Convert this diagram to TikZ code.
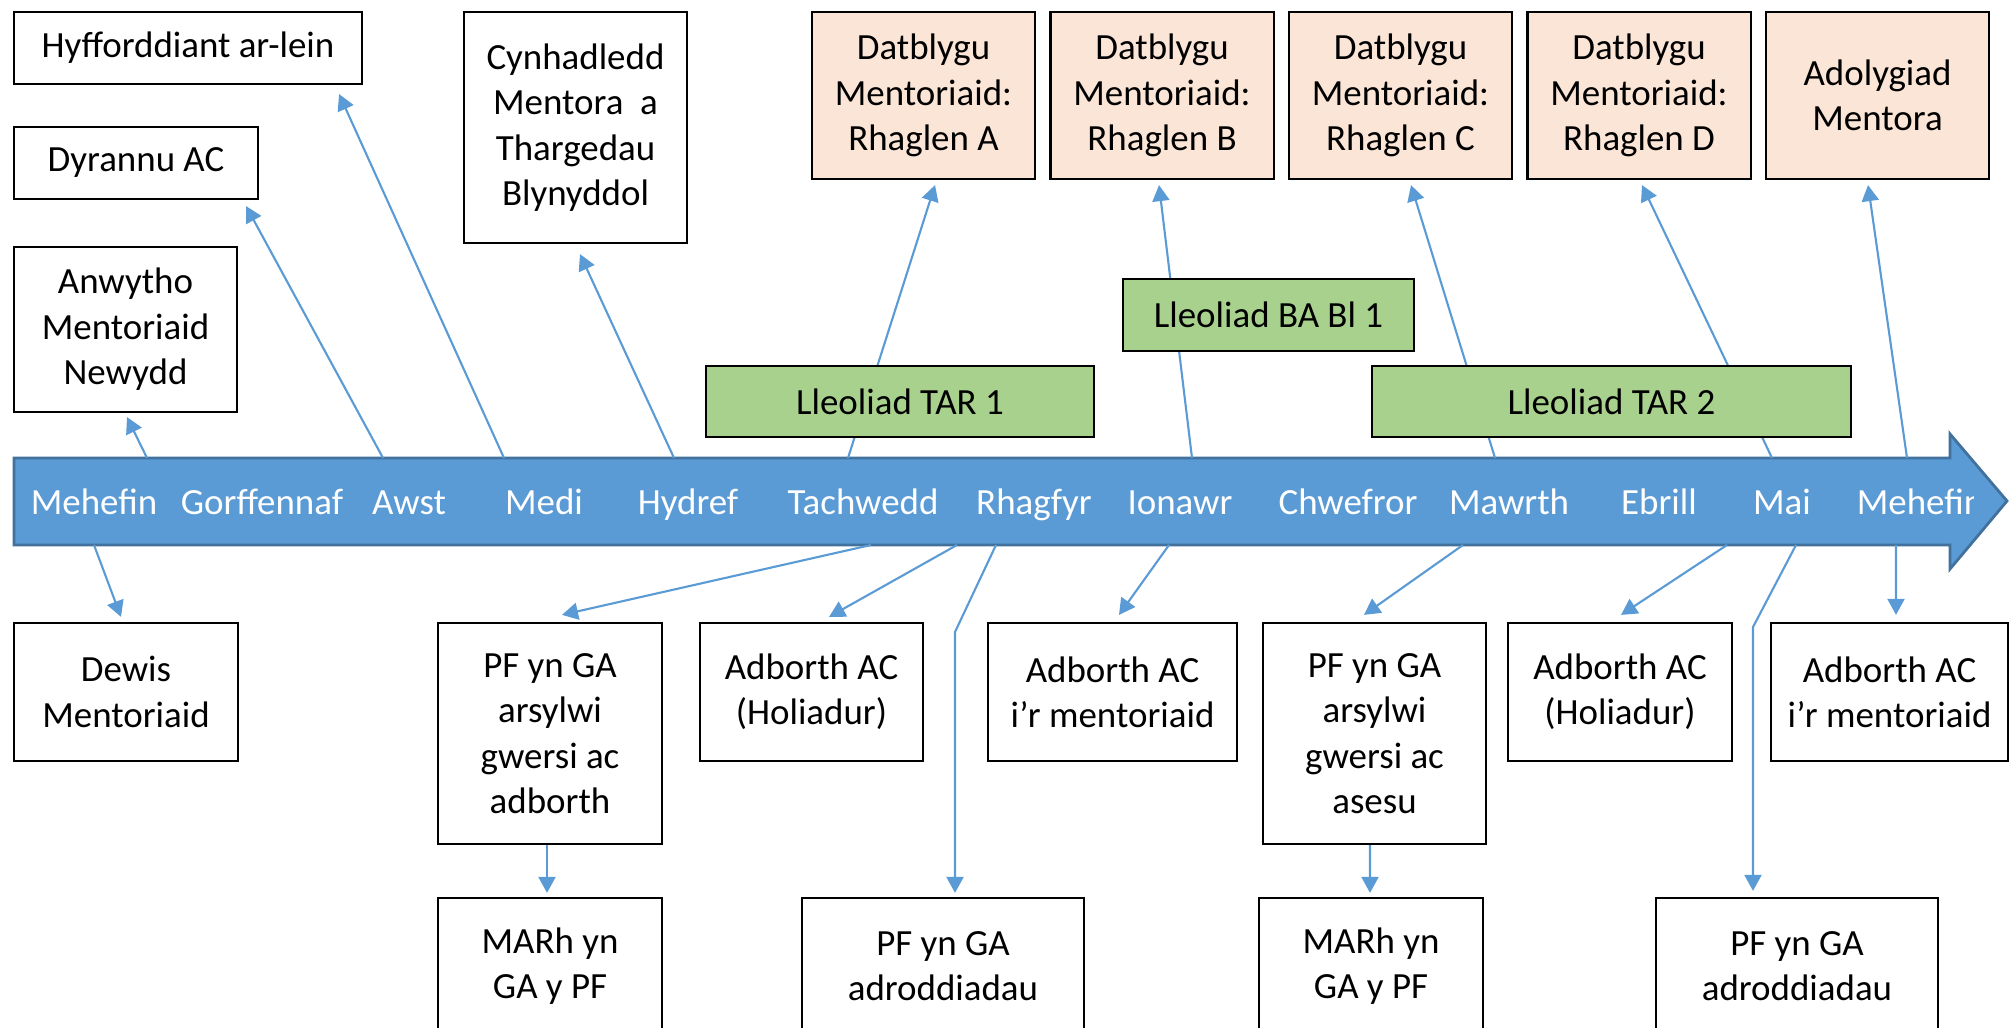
\documentclass[tikz,border=0pt]{standalone}
\usepackage{fontspec}
\setmainfont{Carlito}
\usetikzlibrary{arrows.meta}

\definecolor{bandblue}{RGB}{91,155,213}
\definecolor{bandedge}{RGB}{65,113,156}
\definecolor{linkblue}{RGB}{91,155,213}
\definecolor{placegreen}{RGB}{169,209,142}
\definecolor{progpink}{RGB}{251,229,214}

\begin{document}
\begin{tikzpicture}[x=0.01cm, y=-0.01cm, font=\fontsize{10.5}{12.9}\selectfont,
		box/.style={draw, line width=0.6pt, align=center, inner sep=0pt},
		plain/.style={box, fill=white},
		prog/.style={box, fill=progpink, minimum width=2.23cm, minimum height=1.67cm},
		place/.style={box, fill=placegreen},
		month/.style={text=white, anchor=base, inner sep=0pt},
		link/.style={draw=linkblue, line width=0.6pt, -{Triangle[length=0.16cm, width=0.17cm]}}]

			\useasboundingbox (0,0) rectangle (2009,1028);
			\clip (0,0) rectangle (2009,1028);

			% Draw the time line
			\draw[fill=bandblue, draw=bandedge, line width=0.8pt] (14,458) -- (1950,458) -- (1950,434)
			-- (2007,501) -- (1950,569) -- (1950,545) -- (14,545) -- cycle;

			\node[month] (jun) at (94,515) {Mehefin};
			\node[month] (jul) at (262,515) {Gorffennaf};
			\node[month] (aug) at (409,515) {Awst};
			\node[month] (sep) at (544,515) {Medi};
			\node[month] (oct) at (688,515) {Hydref};
			\node[month] (nov) at (863,515) {Tachwedd};
			\node[month] (dec) at (1034,515) {Rhagfyr};
			\node[month] (jan) at (1180,515) {Ionawr};
			\node[month] (feb) at (1348,515) {Chwefror};
			\node[month] (mar) at (1509,515) {Mawrth};
			\node[month] (apr) at (1659,515) {Ebrill};
			\node[month] (may) at (1782,515) {Mai};
			\begin{scope}
				\clip (1850,460) rectangle (1973,545);
				\node[month] (junb) at (1920,515) {Mehefin};
			\end{scope}

			% Points on the edge of the time line
			\coordinate (t1) at (147,458);
			\coordinate (t2) at (383,458);
			\coordinate (t3) at (504,458);
			\coordinate (t4) at (674,458);
			\coordinate (t5) at (848,458);
			\coordinate (t6) at (1192,458);
			\coordinate (t7) at (1495,458);
			\coordinate (t8) at (1772,458);
			\coordinate (t9) at (1907,458);

			\coordinate (b1) at (94,545);
			\coordinate (b2) at (871,545);
			\coordinate (b3) at (957,545);
			\coordinate (b4) at (996,545);
			\coordinate (b5) at (1169,545);
			\coordinate (b6) at (1463,545);
			\coordinate (b7) at (1727,545);
			\coordinate (b8) at (1796,545);
			\coordinate (b9) at (1896,545);

			\coordinate (k1) at (955,632);
			\coordinate (k2) at (1753,627);

			% Draw the boxes above the line
			\node[plain, minimum width=3.48cm, minimum height=0.72cm] (hyff) at (188,48) {Hyfforddiant ar-lein};
			\node[plain, minimum width=2.44cm, minimum height=0.72cm] (dyrannu) at (136,163) {Dyrannu AC};
			\node[plain, minimum width=2.23cm, minimum height=1.65cm] (anwytho) at (125.5,329.5)
			{Anwytho\\Mentoriaid\\Newydd};
			\node[plain, minimum width=2.23cm, minimum height=2.31cm] (cynh) at (575.5,127.5)
			{Cynhadledd\\Mentora\ \ a\\Thargedau\\Blynyddol};

			\node[prog] (progA) at (923.5,95.5) {Datblygu\\Mentoriaid:\\Rhaglen A};
			\node[prog] (progB) at (1162,95.5) {Datblygu\\Mentoriaid:\\Rhaglen B};
			\node[prog] (progC) at (1400.5,95.5) {Datblygu\\Mentoriaid:\\Rhaglen C};
			\node[prog] (progD) at (1639,95.5) {Datblygu\\Mentoriaid:\\Rhaglen D};
			\node[prog] (review) at (1877.5,95.5) {Adolygiad\\Mentora};

			% Draw the boxes below the line
			\node[plain, minimum width=2.24cm, minimum height=1.38cm] (dewis) at (126,692) {Dewis\\Mentoriaid};
			\node[plain, minimum width=2.24cm, minimum height=2.21cm] (pfA) at (550,733.5)
			{PF yn GA\\arsylwi\\gwersi ac\\adborth};
			\node[plain, minimum width=2.23cm, minimum height=1.38cm] (holA) at (811.5,692) {Adborth AC\\(Holiadur)};
			\node[plain, minimum width=2.49cm, minimum height=1.38cm] (mentA) at (1112.5,692)
			{Adborth AC\\i’r mentoriaid};
			\node[plain, minimum width=2.23cm, minimum height=2.21cm] (pfB) at (1374.5,733.5)
			{PF yn GA\\arsylwi\\gwersi ac\\asesu};
			\node[plain, minimum width=2.24cm, minimum height=1.38cm] (holB) at (1620,692) {Adborth AC\\(Holiadur)};
			\node[plain, minimum width=2.37cm, minimum height=1.38cm] (mentB) at (1889.5,692)
			{Adborth AC\\i’r mentoriaid};

			\node[plain, minimum width=2.24cm, minimum height=1.36cm] (marhA) at (550,966) {MARh yn\\GA y PF};
			\node[plain, minimum width=2.81cm, minimum height=1.36cm] (adrodA) at (943,966) {PF yn GA\\adroddiadau};
			\node[plain, minimum width=2.24cm, minimum height=1.36cm] (marhB) at (1371,966) {MARh yn\\GA y PF};
			\node[plain, minimum width=2.82cm, minimum height=1.36cm] (adrodB) at (1797,966) {PF yn GA\\adroddiadau};

			% Draw the arrows going up
			\draw[link] (t1) -- ([xshift=0.015cm,yshift=-0.04cm]anwytho.south);
			\draw[link] (t2) -- ([xshift=1.10cm,yshift=-0.06cm]dyrannu.south);
			\draw[link] (t3) -- ([xshift=1.51cm,yshift=-0.09cm]hyff.south);
			\draw[link] (t4) -- ([xshift=0.045cm,yshift=-0.10cm]cynh.south);
			\draw[link] (t5) -- ([xshift=0.115cm,yshift=-0.05cm]progA.south);
			\draw[link] (t6) -- ([xshift=-0.03cm,yshift=-0.05cm]progB.south);
			\draw[link] (t7) -- ([xshift=0.105cm,yshift=-0.05cm]progC.south);
			\draw[link] (t8) -- ([xshift=0.03cm,yshift=-0.05cm]progD.south);
			\draw[link] (t9) -- ([xshift=-0.095cm,yshift=-0.05cm]review.south);

			% Draw the arrows going down
			\draw[link] (b1) -- ([xshift=-0.05cm,yshift=0.05cm]dewis.north);
			\draw[link] (b2) -- ([xshift=0.12cm,yshift=0.07cm]pfA.north);
			\draw[link] (b3) -- ([xshift=0.175cm,yshift=0.05cm]holA.north);
			\draw[link] (b4) -- (k1) -- ([xshift=0.12cm,yshift=0.04cm]adrodA.north);
			\draw[link] (b5) -- ([xshift=0.065cm,yshift=0.07cm]mentA.north);
			\draw[link] (b6) -- ([xshift=-0.105cm,yshift=0.07cm]pfB.north);
			\draw[link] (b7) -- ([xshift=0.01cm,yshift=0.07cm]holB.north);
			\draw[link] (b8) -- (k2) -- ([xshift=-0.44cm,yshift=0.06cm]adrodB.north);
			\draw[link] (b9) -- ([xshift=0.065cm,yshift=0.07cm]mentB.north);
			\draw[link] ([xshift=-0.03cm]pfA.south) -- ([xshift=-0.03cm,yshift=0.04cm]marhA.north);
			\draw[link] ([xshift=-0.045cm]pfB.south) -- ([xshift=-0.01cm,yshift=0.04cm]marhB.north);

			% Draw the placements over the arrows
			\node[place, minimum width=2.91cm, minimum height=0.72cm] (baOne) at (1268.5,315) {Lleoliad BA Bl 1};
			\node[place, minimum width=3.88cm, minimum height=0.71cm] (tarOne) at (900,401.5) {Lleoliad TAR 1};
			\node[place, minimum width=4.79cm, minimum height=0.71cm] (tarTwo) at (1611.5,401.5) {Lleoliad TAR 2};

		\end{tikzpicture}
\end{document}
